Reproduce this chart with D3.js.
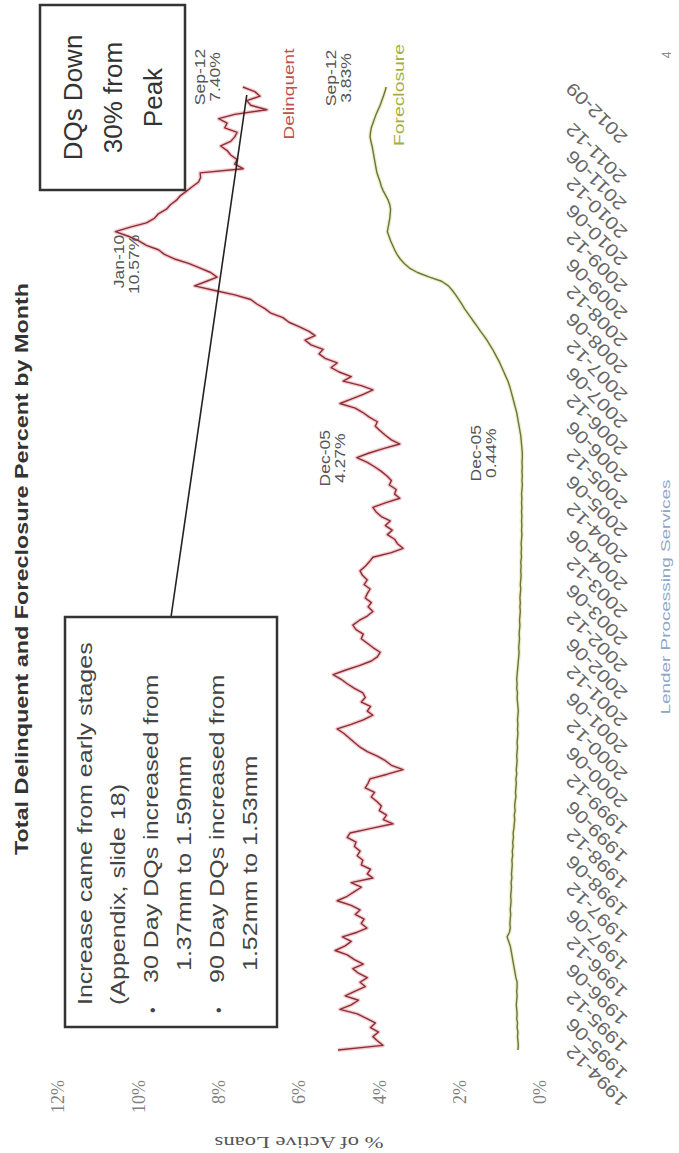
<!DOCTYPE html>
<html>
<head>
<meta charset="utf-8">
<script src="https://cdn.jsdelivr.net/npm/d3@7"></script>
<style>
  html, body { margin: 0; padding: 0; background: #fff; }
  svg { display: block; }
</style>
</head>
<body>
<svg id="chart" width="679" height="1153"></svg>
<script>
// Monthly series, first month below
const startMonth = "1994-12";

// Total delinquent, % of active loans
const delinquent = [
  5.03,3.91,4.05,4.16,4.02,4.22,4.10,4.31,4.55,4.98,4.70,4.52,
  4.85,4.60,4.35,4.48,4.30,4.52,4.66,4.40,4.62,4.80,5.10,4.85,
  4.70,4.92,4.55,4.31,4.45,4.38,4.60,4.48,4.70,5.05,4.80,4.62,
  4.45,4.70,4.16,4.30,4.22,4.45,4.41,4.55,4.48,4.62,4.58,4.80,
  4.73,4.20,3.66,3.90,3.82,4.00,3.95,4.06,4.20,4.12,4.35,4.28,
  4.23,3.80,3.41,3.70,3.85,4.05,4.30,4.48,4.62,4.75,4.88,5.05,
  4.70,4.40,4.16,4.30,4.22,4.45,4.35,4.41,4.62,4.80,4.95,5.15,
  4.85,4.50,4.20,4.05,3.98,4.15,4.30,4.45,4.40,4.58,4.66,4.50,
  4.30,4.16,4.28,4.20,4.35,4.30,4.23,4.38,4.30,4.42,4.48,4.35,
  4.25,4.16,3.70,3.41,3.55,3.62,3.80,3.68,3.85,3.73,3.95,4.08,
  4.16,3.85,3.49,3.62,3.58,3.75,3.70,3.81,3.95,4.12,4.30,4.56,
  4.27,3.90,3.49,3.70,3.85,3.98,4.10,4.05,4.25,4.41,4.60,4.98,
  4.70,4.40,4.16,4.45,4.90,4.70,5.00,5.20,5.05,5.35,5.50,5.40,
  5.70,5.85,5.60,5.75,6.00,6.25,6.40,6.70,6.85,7.05,7.20,7.60,
  8.10,8.60,8.30,8.04,8.20,8.46,8.75,9.10,9.35,9.50,9.80,10.00,
  10.25,10.57,10.20,9.80,9.60,9.50,9.30,9.20,9.05,8.95,8.80,8.65,
  8.50,8.45,8.46,7.39,7.60,7.54,7.70,7.79,7.95,7.70,7.60,7.54,
  7.85,7.79,8.00,7.60,6.80,7.20,7.30,6.97,7.10,7.40
];

// Foreclosure inventory, % of active loans
const foreclosure = [
  0.55,0.54,0.55,0.56,0.55,0.57,0.56,0.58,0.57,0.58,0.59,0.58,
  0.57,0.58,0.57,0.57,0.60,0.62,0.64,0.66,0.68,0.70,0.72,0.74,
  0.78,0.82,0.76,0.74,0.75,0.74,0.73,0.74,0.73,0.72,0.73,0.72,
  0.71,0.72,0.70,0.71,0.70,0.69,0.70,0.68,0.69,0.67,0.68,0.66,
  0.67,0.65,0.64,0.63,0.64,0.62,0.63,0.62,0.60,0.61,0.60,0.59,
  0.60,0.58,0.59,0.58,0.57,0.58,0.57,0.56,0.57,0.56,0.55,0.56,
  0.55,0.56,0.55,0.54,0.55,0.56,0.57,0.56,0.58,0.57,0.58,0.57,
  0.56,0.55,0.54,0.53,0.52,0.53,0.52,0.51,0.52,0.51,0.50,0.51,
  0.50,0.49,0.50,0.49,0.50,0.49,0.48,0.49,0.48,0.47,0.48,0.47,
  0.48,0.46,0.47,0.46,0.47,0.46,0.45,0.46,0.45,0.46,0.45,0.46,
  0.45,0.46,0.45,0.46,0.45,0.44,0.45,0.44,0.45,0.44,0.45,0.44,
  0.44,0.45,0.46,0.47,0.48,0.50,0.52,0.54,0.56,0.58,0.61,0.64,
  0.67,0.70,0.73,0.76,0.80,0.85,0.90,0.95,1.00,1.06,1.12,1.18,
  1.25,1.32,1.40,1.48,1.56,1.64,1.72,1.80,1.88,1.95,2.02,2.10,
  2.18,2.28,2.45,2.75,3.05,3.25,3.38,3.48,3.56,3.62,3.67,3.72,
  3.76,3.80,3.78,3.76,3.74,3.73,3.72,3.74,3.78,3.84,3.90,3.95,
  3.98,4.02,4.06,4.08,4.10,4.12,4.14,4.16,4.18,4.21,4.23,4.22,
  4.20,4.16,4.12,4.08,4.03,3.98,3.94,3.90,3.86,3.83
];

const yTicks = [0, 2, 4, 6, 8, 10, 12];

const dateLabels = [
  "1994-12","1995-06","1995-12","1996-06","1996-12","1997-06","1997-12",
  "1998-06","1998-12","1999-06","1999-12","2000-06","2000-12","2001-06",
  "2001-12","2002-06","2002-12","2003-06","2003-12","2004-06","2004-12",
  "2005-06","2005-12","2006-06","2006-12","2007-06","2007-12","2008-06",
  "2008-12","2009-06","2009-12","2010-06","2010-12","2011-06","2011-12",
  "2012-09"
];

// Point call-outs: month, series, text lines
const pointNotes = [
  { month: "2010-01", series: "dq", lines: ["Jan-10", "10.57%"] },
  { month: "2005-12", series: "dq", lines: ["Dec-05", "4.27%"] },
  { month: "2012-09", series: "dq", lines: ["Sep-12", "7.40%"] },
  { month: "2005-12", series: "fc", lines: ["Dec-05", "0.44%"] },
  { month: "2012-09", series: "fc", lines: ["Sep-12", "3.83%"] }
];

const boxLines = [
  { bullet: false, indent: 0, text: "Increase came from early stages" },
  { bullet: false, indent: 0, text: "(Appendix, slide 18)" },
  { bullet: true,  indent: 1, text: "30 Day DQs increased from" },
  { bullet: false, indent: 2, text: "1.37mm to 1.59mm" },
  { bullet: true,  indent: 1, text: "90 Day DQs increased from" },
  { bullet: false, indent: 2, text: "1.52mm to 1.53mm" }
];

const peakBoxLines = ["DQs Down", "30% from", "Peak"];

// ---------------------------------------------------------------
// The slide is laid out landscape (W x H) and turned a quarter turn
const W = 1153, H = 679;
const svg = d3.select("#chart");
svg.append("rect").attr("width", 679).attr("height", 1153).attr("fill", "#fff");
const g = svg.append("g").attr("transform", `translate(0,${W}) rotate(-90)`);

const SANS = "'Liberation Sans', Arial, sans-serif";
const SERIF = "'Liberation Serif', 'Times New Roman', serif";
const fmt = d3.timeFormat("%Y-%m");
const parse = d3.timeParse("%Y-%m");
const t0 = parse(startMonth);
const dates = delinquent.map((_, i) => d3.timeMonth.offset(t0, i));

const x = d3.scaleTime().domain([t0, dates[dates.length - 1]]).range([103, 1066]);
const y = d3.scaleLinear().domain([0, 12]).range([540, 58]);

// The slide font runs wide: widen each text run by a factor
function widen(sel, k) {
  sel.each(function () {
    const n = this.getComputedTextLength();
    d3.select(this).attr("textLength", n * k).attr("lengthAdjust", "spacingAndGlyphs");
  });
  return sel;
}

// Title
g.append("text")
  .attr("x", 584).attr("y", 28)
  .attr("text-anchor", "middle")
  .attr("font-family", SANS).attr("font-weight", "bold")
  .attr("font-size", 19).attr("fill", "#333")
  .attr("textLength", 572).attr("lengthAdjust", "spacingAndGlyphs")
  .text("Total Delinquent and Foreclosure Percent by Month");

// Value axis
const yAxis = g.append("g").attr("transform", "translate(75,0)")
  .call(d3.axisLeft(y).tickValues(yTicks).tickSize(0).tickPadding(2).tickFormat(d => d + "%"));
yAxis.select(".domain").remove();
yAxis.selectAll("text")
  .attr("font-family", SERIF).attr("font-size", 18).attr("fill", "#808080");

widen(g.append("text")
  .attr("transform", `translate(16,${(y(0) + y(12)) / 2}) rotate(-90)`)
  .attr("text-anchor", "middle")
  .attr("font-family", SERIF).attr("font-size", 17).attr("fill", "#555")
  .text("% of Active Loans"), 1.33);

// Month axis
const xAxis = g.append("g").attr("transform", "translate(1,569)")
  .call(d3.axisBottom(x).tickValues(dateLabels.map(parse)).tickSize(0).tickFormat(fmt));
xAxis.select(".domain").remove();
widen(xAxis.selectAll("text")
  .attr("x", 0).attr("y", 0).attr("dy", "0.35em")
  .attr("text-anchor", "end")
  .attr("transform", "rotate(-45)")
  .attr("font-family", SANS).attr("font-size", 18).attr("fill", "#666"), 1.18);

// Series lines
const line = d3.line().x((d, i) => x(dates[i])).y(d => y(d));

function drawSeries(values, halo, core) {
  g.append("path").datum(values).attr("d", line)
    .attr("fill", "none").attr("stroke", halo).attr("stroke-width", 4)
    .attr("stroke-linejoin", "round").attr("opacity", 0.55);
  g.append("path").datum(values).attr("d", line)
    .attr("fill", "none").attr("stroke", core).attr("stroke-width", 1.4)
    .attr("stroke-linejoin", "round");
}
drawSeries(foreclosure, "#dfe59a", "#6f7140");
drawSeries(delinquent, "#eaa0a8", "#8a2f37");

// Series names
widen(g.append("text").attr("x", 1059).attr("y", 294).attr("text-anchor", "middle")
  .attr("font-family", SANS).attr("font-size", 14).attr("fill", "#c0504d").text("Delinquent"), 1.36);
widen(g.append("text").attr("x", 1058).attr("y", 404).attr("text-anchor", "middle")
  .attr("font-family", SANS).attr("font-size", 14).attr("fill", "#a9ad3c").text("Foreclosure"), 1.38);

// Point call-outs: [dx, dy, anchor] relative to the marked month
const noteOffsets = {
  "dq2010-01": [-3, 9, "end"], "dq2005-12": [-5, -38, "middle"], "dq2012-09": [10, -38, "middle"],
  "fc2005-12": [0, -41, "middle"], "fc2012-09": [9, -50, "middle"]
};
pointNotes.forEach(n => {
  const i = dates.findIndex(d => fmt(d) === n.month);
  const v = (n.series === "dq" ? delinquent : foreclosure)[i];
  const off = noteOffsets[n.series + n.month];
  n.lines.forEach((s, k) => {
    widen(g.append("text")
      .attr("x", x(dates[i]) + off[0]).attr("y", y(v) + off[1] + k * 15)
      .attr("text-anchor", off[2])
      .attr("font-family", SANS).attr("font-size", 14).attr("fill", "#555")
      .text(s), 1.25);
  });
});

// Commentary box with connector to the latest month
const box = { x0: 126, x1: 536, y0: 65, y1: 277 };
const lastX = x(dates[dates.length - 1]), lastY = y(delinquent[delinquent.length - 1]);
g.append("line")
  .attr("x1", box.x1).attr("y1", 171)
  .attr("x2", lastX - 8).attr("y2", lastY + 4)
  .attr("stroke", "#222").attr("stroke-width", 1.6);
g.append("rect")
  .attr("x", box.x0).attr("y", box.y0)
  .attr("width", box.x1 - box.x0).attr("height", box.y1 - box.y0)
  .attr("fill", "#fff").attr("stroke", "#333").attr("stroke-width", 2.5);
const indentX = [22, 44, 56];
boxLines.forEach((l, k) => {
  const ly = box.y0 + 27 + k * 33;
  if (l.bullet) {
    g.append("text").attr("x", box.x0 + 14).attr("y", ly)
      .attr("font-family", SANS).attr("font-size", 16).attr("fill", "#444").text("\u2022");
  }
  widen(g.append("text").attr("x", box.x0 + indentX[l.indent]).attr("y", ly)
    .attr("font-family", SANS).attr("font-size", 20).attr("fill", "#444").text(l.text), 1.25);
});

// Peak call-out box
const pbox = { x0: 963, x1: 1148, y0: 40, y1: 185 };
g.append("rect")
  .attr("x", pbox.x0).attr("y", pbox.y0)
  .attr("width", pbox.x1 - pbox.x0).attr("height", pbox.y1 - pbox.y0)
  .attr("fill", "#fff").attr("stroke", "#333").attr("stroke-width", 2.5);
peakBoxLines.forEach((s, k) => {
  g.append("text").attr("x", (pbox.x0 + pbox.x1) / 2).attr("y", pbox.y0 + 42 + k * 40)
    .attr("text-anchor", "middle")
    .attr("font-family", SANS).attr("font-size", 26).attr("fill", "#333").text(s);
});

// Footer
widen(g.append("text").attr("x", 556).attr("y", 670).attr("text-anchor", "middle")
  .attr("font-family", SANS).attr("font-size", 13).attr("fill", "#8fa6c4")
  .text("Lender Processing Services"), 1.45);
g.append("text").attr("x", 1098).attr("y", 671).attr("text-anchor", "middle")
  .attr("font-family", SANS).attr("font-size", 12).attr("fill", "#888").text("4");
</script>
</body>
</html>
